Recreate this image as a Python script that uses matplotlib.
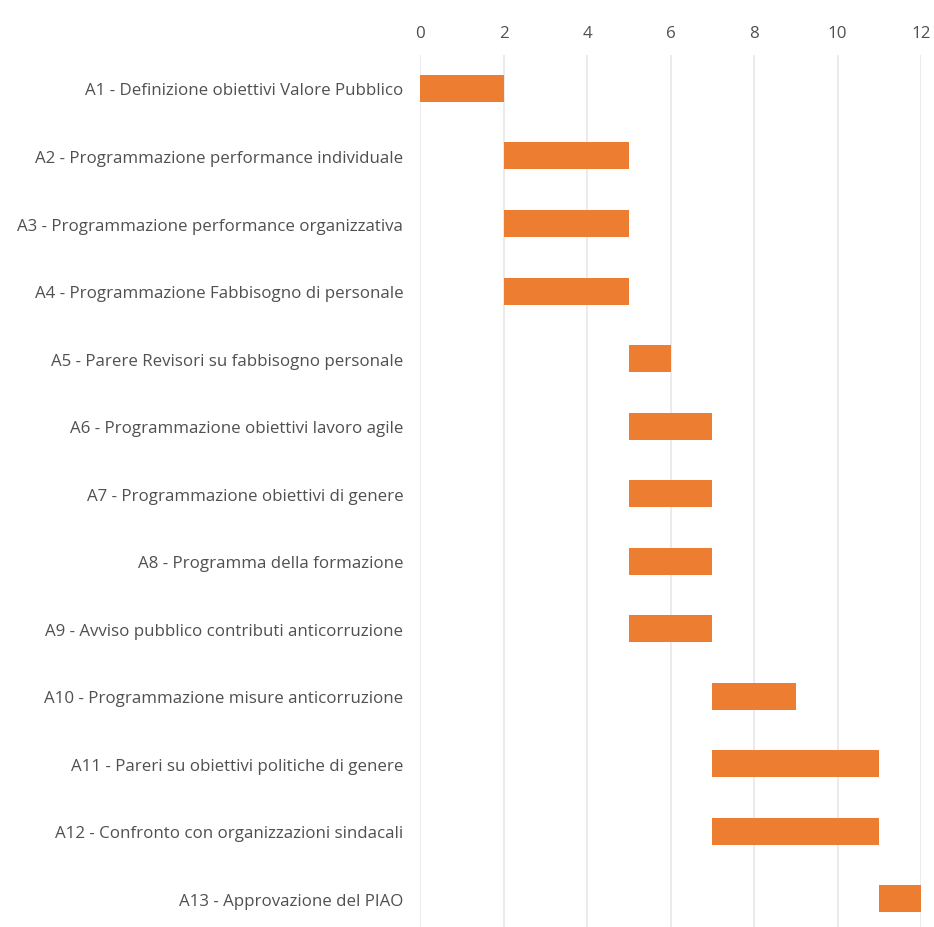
import matplotlib.pyplot as plt

tasks = [
    "A1 - Definizione obiettivi Valore Pubblico",
    "A2 - Programmazione performance individuale",
    "A3 - Programmazione performance organizzativa",
    "A4 - Programmazione Fabbisogno di personale",
    "A5 - Parere Revisori su fabbisogno personale",
    "A6 - Programmazione obiettivi lavoro agile",
    "A7 - Programmazione obiettivi di genere",
    "A8 - Programma della formazione",
    "A9 - Avviso pubblico contributi anticorruzione",
    "A10 - Programmazione misure anticorruzione",
    "A11 - Pareri su obiettivi politiche di genere",
    "A12 - Confronto con organizzazioni sindacali",
    "A13 - Approvazione del PIAO",
]
starts = [0, 2, 2, 2, 5, 5, 5, 5, 5, 7, 7, 7, 11]
durations = [2, 3, 3, 3, 1, 2, 2, 2, 2, 2, 4, 4, 1]
xticks = [0, 2, 4, 6, 8, 10, 12]

plt.rcParams['font.family'] = ['Open Sans', 'DejaVu Sans']

fig = plt.figure(figsize=(9.34, 9.28), dpi=100)
ax = fig.add_axes([0.4497, -0.0061, 0.9861 - 0.4497, 0.9461])

ypos = range(len(tasks))
ax.barh(ypos, durations, left=starts, height=0.4, color="#ED7D31", zorder=3)

ax.set_xlim(0, 12)
ax.set_ylim(len(tasks) - 0.5, -0.5)
ax.set_xticks(xticks)
ax.set_yticks(list(ypos))
ax.set_yticklabels(tasks)
ax.xaxis.tick_top()
ax.tick_params(axis="both", length=0, labelsize=12.2, labelcolor="#505050")
ax.tick_params(axis="x", pad=10)
ax.tick_params(axis="y", pad=12)
ax.grid(axis="x", color="#E8E8E8", linewidth=1.2, zorder=0)
for s in ax.spines.values():
    s.set_visible(False)

plt.savefig("out.png", dpi=100)
